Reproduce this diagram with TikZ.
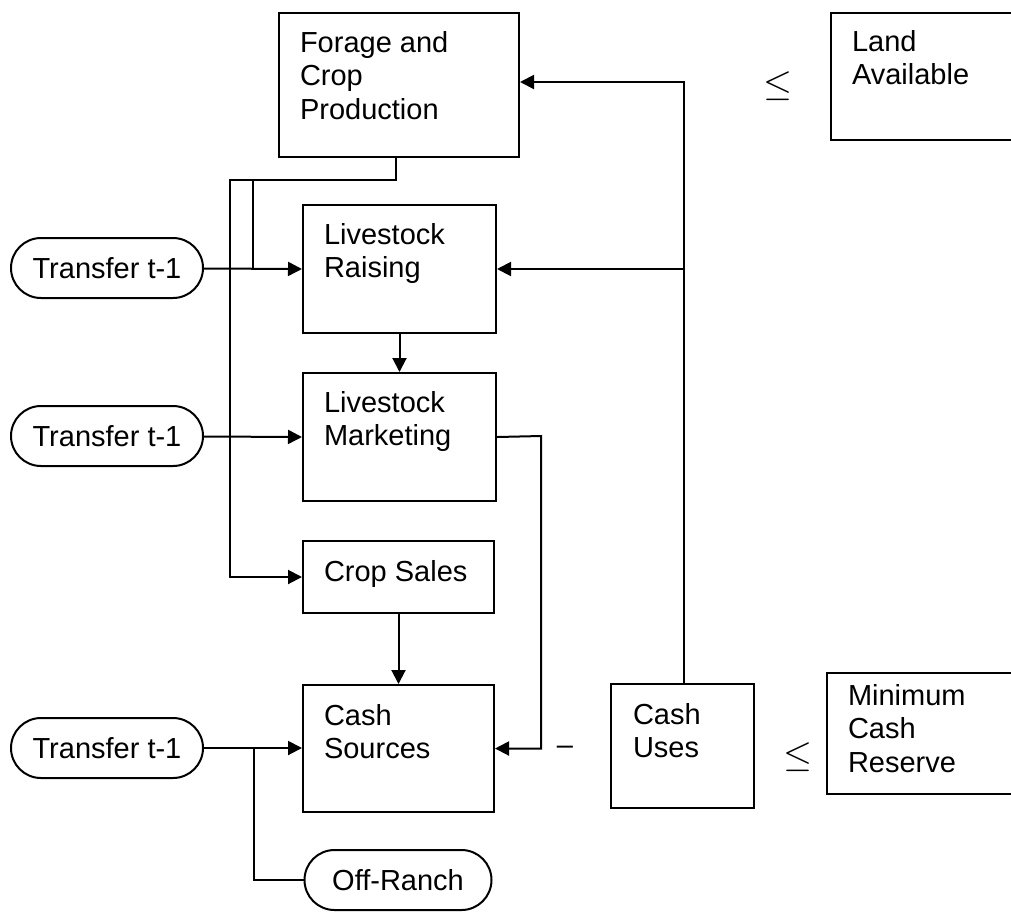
\documentclass[tikz,border=0pt]{standalone}
\usepackage{fontspec}
\setmainfont{Liberation Sans}
\usetikzlibrary{arrows.meta,positioning}
\tikzset
{
    block/.style 2 args = {rectangle, draw=black, anchor=north west, inner sep=0pt, minimum width=#1, minimum height=#2},
    blocktext/.style    = {anchor=north west, inner sep=0pt, align=left, font=\fontsize{29}{33.5}\selectfont},
    terminal/.style     = {rectangle, rounded corners=30pt, draw=black, inner sep=0pt, minimum width=192pt, minimum height=60pt, font=\fontsize{29}{33.5}\selectfont},
    relation/.style     = {inner sep=0pt, font=\fontsize{24.88}{30}\selectfont}
}

\begin{document}
\begin{tikzpicture}
    [x=1pt, y=-1pt, line width=2pt, >={Triangle[length=14pt,width=14pt]}]
    \useasboundingbox (0,0) rectangle (1011,922);

    \node [block={240pt}{144pt}] (forage) at (278,12) {};
    \node [blocktext] (forage-text) at ([shift={(21,18)}]forage.north west) {Forage and\\Crop\\Production};
    \node [block={184pt}{127pt}] (land) at (830,12) {};
    \node [blocktext] (land-text) at ([shift={(21,17)}]land.north west) {Land\\Available};
    \node [block={193pt}{128pt}] (raise) at (302,204) {};
    \node [blocktext] (raise-text) at ([shift={(21,18)}]raise.north west) {Livestock\\Raising};
    \node [block={193pt}{128pt}] (market) at (302,372) {};
    \node [blocktext] (market-text) at ([shift={(21,18)}]market.north west) {Livestock\\Marketing};
    \node [block={191pt}{72pt}] (sales) at (302,540) {};
    \node [blocktext] (sales-text) at ([shift={(21,19)}]sales.north west) {Crop Sales};
    \node [block={191pt}{127pt}] (sources) at (302,684) {};
    \node [blocktext] (sources-text) at ([shift={(21,19)}]sources.north west) {Cash\\Sources};
    \node [block={143pt}{124pt}] (uses) at (610,683) {};
    \node [blocktext] (uses-text) at ([shift={(22,19)}]uses.north west) {Cash\\Uses};
    \node [block={188pt}{121pt}] (reserve) at (826,672) {};
    \node [blocktext] (reserve-text) at ([shift={(21,11)}]reserve.north west) {Minimum\\Cash\\Reserve};

    \node [terminal] (transfer1) at (107,268) {Transfer t-1};
    \node [terminal] (transfer2) at (107,436) {Transfer t-1};
    \node [terminal] (transfer3) at (107,748) {Transfer t-1};
    \node [terminal, minimum width=187pt] (offranch) at (398,880) {Off-Ranch};

    \node [relation] (le-land) at (778,86) {\scalebox{1.5}{$\leq$}};
    \node [relation] (le-reserve) at (798,757) {\scalebox{1.5}{$\leq$}};
    \node [blocktext, anchor=center] (minus) at (565,750) {--};

    \coordinate (fork) at (396,180);
    \coordinate (rjoin) at (253,180);
    \coordinate (loop) at (541,436);
    \coordinate (up) at (684,82);
    \coordinate (orjoin) at (254,748);

    \draw [->] (forage.south -| fork) |- (230,180) |- (sales.west);
    \draw (rjoin) -- (rjoin |- raise.west);
    \draw [->] (transfer1) -- (raise.west);
    \draw [->] (raise) -- (market);
    \draw [->] (transfer2) -- (market.west);
    \draw [->] (market.east) -- (loop) |- (sources.east);
    \draw [->] (sales) -- (sources);
    \draw [->] (transfer3) -- (transfer3 -| sources.west);
    \draw (orjoin) |- (offranch.west);
    \draw [->] (uses.north -| up) -- (up) -- (forage.east |- up);
    \draw [->] (up |- raise.east) -- (raise.east);
\end{tikzpicture}
\end{document}
